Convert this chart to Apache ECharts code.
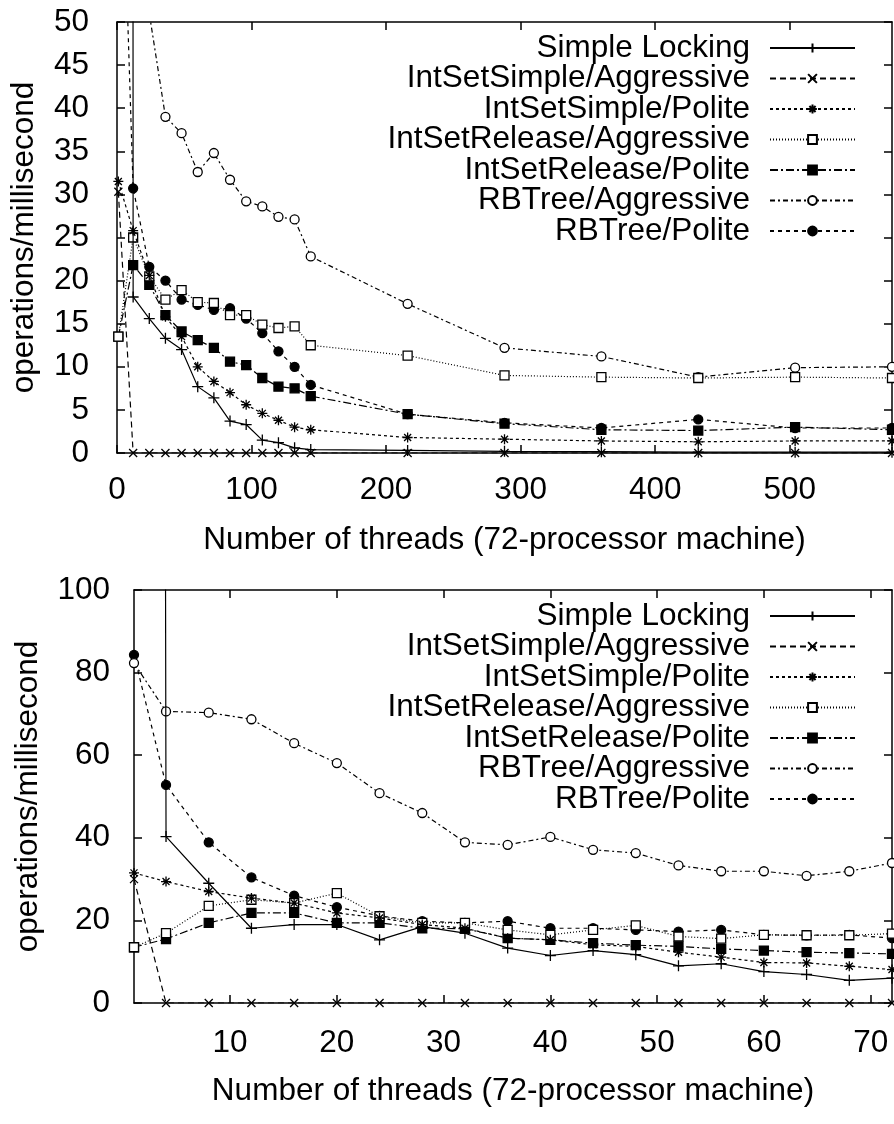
<!DOCTYPE html>
<html><head><meta charset="utf-8">
<script src="https://cdn.jsdelivr.net/npm/echarts@6/dist/echarts.min.js"></script>
<style>html,body{margin:0;padding:0;background:#fff}#c{width:894px;height:1124px}</style>
</head><body><div id="c"></div>
<script>
const seriesNames = ['Simple Locking','IntSetSimple/Aggressive','IntSetSimple/Polite','IntSetRelease/Aggressive','IntSetRelease/Polite','RBTree/Aggressive','RBTree/Polite'];

// Top chart (x up to 576 threads)
const topX = [1,12,24,36,48,60,72,84,96,108,120,132,144,216,288,360,432,504,576];
const topSimpleLocking = [4000,18.1,15.6,13.3,12.0,7.7,6.4,3.7,3.3,1.5,1.2,0.6,0.4,0.3,0.2,0.15,0.1,0.1,0.1];
const topIntSetSimpleAggr = [30.3,0,0,0,0,0,0,0,0,0,0,0,0,0,0,0,0,0,0];
const topIntSetSimplePolite = [31.5,25.8,20.6,15.8,13.5,10.0,8.3,7.0,5.6,4.6,3.8,3.0,2.7,1.8,1.6,1.4,1.3,1.4,1.4];
const topIntSetReleaseAggr = [13.5,25.0,20.5,17.8,18.9,17.5,17.4,16.0,16.0,14.9,14.5,14.7,12.5,11.3,9.0,8.8,8.7,8.8,8.7];
const topIntSetReleasePolite = [13.5,21.8,19.5,16.0,14.1,13.1,12.2,10.6,10.2,8.7,7.7,7.5,6.6,4.5,3.4,2.7,2.6,3.0,2.7];
const topRBTreeAggr = [82.3,68.7,51.0,39.0,37.1,32.6,34.8,31.7,29.2,28.6,27.4,27.1,22.8,17.3,12.2,11.2,8.8,9.9,10.0];
const topRBTreePolite = [84.3,30.7,21.6,20.0,17.8,17.2,16.6,16.8,15.6,13.9,11.8,10.0,7.9,4.5,3.5,2.9,3.9,2.9,2.9];
const topXTicks = [0,100,200,300,400,500];

// Bottom chart (x up to 72 threads)
const botX = [1,4,8,12,16,20,24,28,32,36,40,44,48,52,56,60,64,68,72];
const botSimpleLocking = [4000,40.3,29.0,18.1,19.0,19.0,15.3,18.5,16.9,13.3,11.5,12.7,11.7,9.0,9.5,7.6,6.9,5.5,6.0];
const botIntSetSimpleAggr = [30.0,0,0,0,0,0,0,0,0,0,0,0,0,0,0,0,0,0,0];
const botIntSetSimplePolite = [31.5,29.4,27.0,25.4,24.2,21.8,20.6,19.0,18.1,15.7,15.3,14.1,13.7,12.3,11.1,9.8,9.7,8.9,8.1];
const botIntSetReleaseAggr = [13.5,16.9,23.5,25.0,24.2,26.6,21.0,19.4,19.4,17.7,16.5,17.7,18.8,16.1,15.6,16.5,16.4,16.4,16.8];
const botIntSetReleasePolite = [13.5,15.5,19.4,21.8,21.8,19.4,19.4,18.1,18.0,15.7,15.3,14.5,14.0,13.7,13.1,12.7,12.3,12.1,11.9];
const botRBTreeAggr = [82.3,70.6,70.3,68.7,62.9,58.1,50.8,46.0,38.9,38.3,40.2,37.1,36.3,33.3,31.9,31.9,30.8,31.9,33.9];
const botRBTreePolite = [84.3,52.8,38.9,30.4,26.0,23.2,21.1,19.8,19.4,19.8,18.1,18.1,17.7,17.3,17.7,16.5,16.4,16.5,15.7];
const botXTicks = [10,20,30,40,50,60,70];

const xTitle = 'Number of threads (72-processor machine)';
const yTitle = 'operations/millisecond';

const FONT = '"Liberation Sans", Arial, sans-serif';
const FS = 31.5;

const styles = [
  {symbol:'path://M0,5L10,5M5,0L5,10', size:11, fill:'#000', dash:'solid'},
  {symbol:'path://M0,0L10,10M10,0L0,10', size:8, fill:'#000', dash:[6,4]},
  {symbol:'path://M0,5L10,5M5,0L5,10M1.5,1.5L8.5,8.5M8.5,1.5L1.5,8.5', size:10, fill:'#000', dash:[3,3]},
  {symbol:'rect', size:9, fill:'#fff', dash:[1,2]},
  {symbol:'rect', size:9, fill:'#000', dash:[8,3,2,3]},
  {symbol:'circle', size:9, fill:'#fff', dash:[5,3,2,3]},
  {symbol:'circle', size:9, fill:'#000', dash:[4,4]}
];

function mk(xs, ys, idx, gi){
  const s = styles[idx];
  return {
    type:'line', name:seriesNames[idx], xAxisIndex:gi*2, yAxisIndex:gi*2,
    data: xs.map((x,i)=>[x, ys[i]]),
    symbol:s.symbol, symbolSize:s.size, showAllSymbol:true, clip:true,
    lineStyle:{color:'#000', width:1.2, type:s.dash},
    itemStyle:{color:s.fill, borderColor:'#000', borderWidth:1.3},
    emphasis:{disabled:true}, animation:false, z: 10-idx
  };
}

const topData = [topSimpleLocking, topIntSetSimpleAggr, topIntSetSimplePolite, topIntSetReleaseAggr, topIntSetReleasePolite, topRBTreeAggr, topRBTreePolite];
const botData = [botSimpleLocking, botIntSetSimpleAggr, botIntSetSimplePolite, botIntSetReleaseAggr, botIntSetReleasePolite, botRBTreeAggr, botRBTreePolite];

const series = [];
topData.forEach((d,i)=>series.push(mk(topX, d, i, 0)));
botData.forEach((d,i)=>series.push(mk(botX, d, i, 1)));

const lbl = {color:'#000', fontFamily:FONT, fontSize:FS};
function xAxes(gi, min, max, ticks, name, margin, gap){
  return [
    {type:'value', gridIndex:gi, position:'bottom', min, max,
     name, nameLocation:'middle', nameGap:gap, nameTextStyle:lbl,
     axisLine:{show:true, onZero:false, lineStyle:{color:'#000', width:1.5}},
     axisTick:{show:true, inside:true, length:8, customValues:ticks, lineStyle:{color:'#000', width:1.5}},
     axisLabel:Object.assign({margin, customValues:ticks}, lbl),
     splitLine:{show:false}},
    {type:'value', gridIndex:gi, position:'top', min, max,
     axisLine:{show:true, onZero:false, lineStyle:{color:'#000', width:1.5}},
     axisTick:{show:true, inside:true, length:8, customValues:ticks, lineStyle:{color:'#000', width:1.5}},
     axisLabel:{show:false}, splitLine:{show:false}}
  ];
}
function yAxes(gi, max, interval, gap, margin){
  return [
    {type:'value', gridIndex:gi, position:'left', min:0, max, interval,
     name:yTitle, nameLocation:'middle', nameGap:gap, nameRotate:90, nameTextStyle:lbl,
     axisLine:{show:true, onZero:false, lineStyle:{color:'#000', width:1.5}},
     axisTick:{show:true, inside:true, length:8, lineStyle:{color:'#000', width:1.5}},
     axisLabel:Object.assign({margin}, lbl), splitLine:{show:false}},
    {type:'value', gridIndex:gi, position:'right', min:0, max, interval,
     axisLine:{show:true, onZero:false, lineStyle:{color:'#000', width:1.5}},
     axisTick:{show:true, inside:true, length:8, lineStyle:{color:'#000', width:1.5}},
     axisLabel:{show:false}, splitLine:{show:false}}
  ];
}

function legend(top){
  return {
    data: seriesNames, orient:'vertical', right:38, top, align:'right', padding:0,
    itemWidth:85, itemHeight:11, itemGap:-1.5,
    textStyle:{color:'#000', fontFamily:FONT, fontSize:FS, lineHeight:29, padding:[0,15,0,0]},
    selectedMode:false, inactiveColor:'#000'
  };
}

const chart = echarts.init(document.getElementById('c'), null, {renderer:'canvas'});
chart.setOption({
  backgroundColor:'#fff', animation:false,
  grid:[
    {left:117, top:22, right:2, height:431, containLabel:false},
    {left:134, top:590, right:2, height:413, containLabel:false}
  ],
  xAxis:[...xAxes(0, 0, 576, topXTicks, xTitle, 21, 71), ...xAxes(1, 1, 72, botXTicks, xTitle, 24, 72)],
  yAxis:[...yAxes(0, 50, 5, 77, 28), ...yAxes(1, 100, 20, 90, 24)],
  legend:[legend(32), legend(600)],
  series
});
</script></body></html>
